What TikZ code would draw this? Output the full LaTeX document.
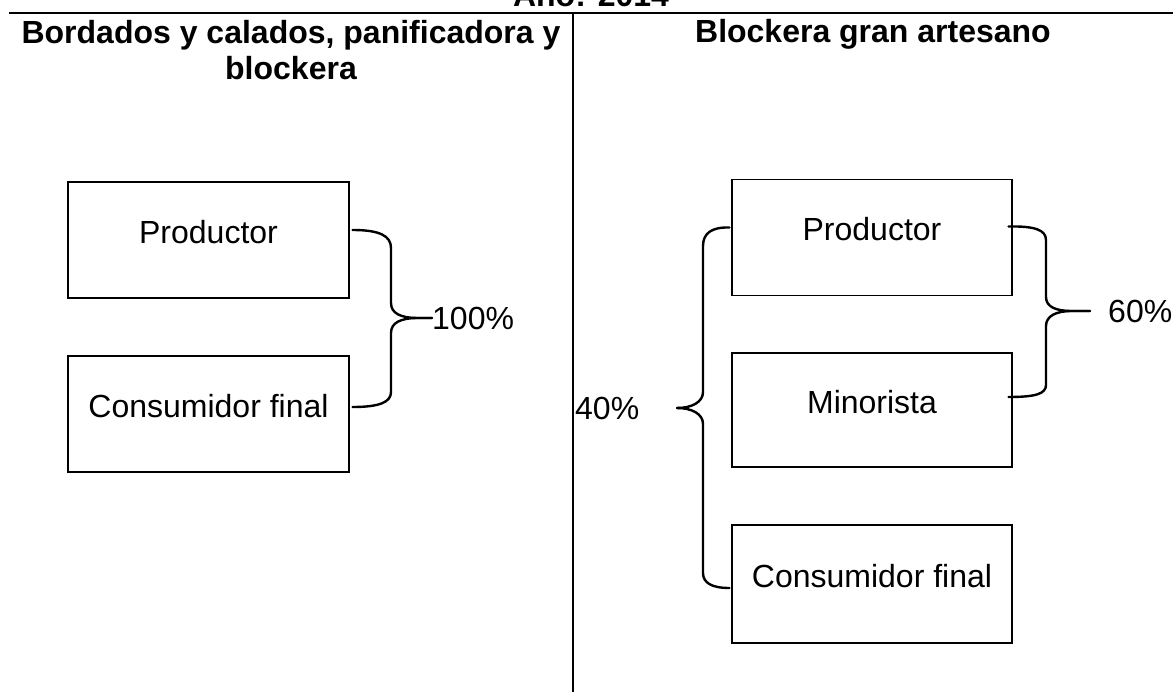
\documentclass[tikz,border=0pt]{standalone}
\usepackage{fontspec}
\setmainfont{Liberation Sans}
\usetikzlibrary{calc}
\newcommand\boxtxt[1]{\raisebox{8pt}[\height][\depth]{#1}}
\begin{document}
\begin{tikzpicture}[x=1pt,y=-1pt,
  every node/.style={font=\fontsize{32}{38}\selectfont},
  titletxt/.style={font=\fontsize{32}{38}\selectfont\bfseries, anchor=base, inner sep=0pt},
  box/.style={draw, line width=1.3pt, minimum width=281pt, minimum height=116pt, inner sep=0pt},
  pct/.style={anchor=west, inner sep=0pt},
  rule/.style={line width=1.4pt},
  brace/.style={line width=2.4pt, line join=round, line cap=round}]
\useasboundingbox (0,0) rectangle (1176,692);
% title and rules
\node[titletxt] (year) at (591,7) {Año: 2014};
\coordinate (tl) at (9,13);
\coordinate (tr) at (1173,13);
\coordinate (vt) at (573,13);
\coordinate (vb) at (573,692);
\draw[rule] (tl) -- (tr);
\draw[rule] (vt) -- (vb);
\node[titletxt] (tL1) at (291,44) {Bordados y calados, panificadora y};
\node[titletxt] (tL2) at (291,80) {blockera};
\node[titletxt] (tR) at (873,43) {Blockera gran artesano};
% left boxes
\node[box] (pL) at (208.5,240) {\boxtxt{Productor}};
\node[box] (cL) at (208.5,414) {\boxtxt{Consumidor final}};
% right boxes
\node[box, minimum width=280pt] (pR) at (872,237.5) {\boxtxt{Productor}};
\node[box, minimum width=280pt, minimum height=114pt] (mR) at (872,410) {\boxtxt{Minorista}};
\node[box, minimum width=280pt, minimum height=118pt] (cR) at (872,584) {\boxtxt{Consumidor final}};
% labels
\node[pct] (l100) at (432,318) {100\%};
\node[pct] (l60) at (1108,311) {60\%};
\node[pct] (l40) at (575,408) {40\%};
% left brace
\coordinate (bLt) at ($(pL.east)+(3,-10)$);
\coordinate (bLb) at ($(cL.east)+(3,-7)$);
\draw[brace] (bLt) .. controls (380,230) and (391,236) .. (391,248) -- (391,303)
  .. controls (391,313) and (400,318) .. (418,318) -- (l100.west);
\draw[brace] (l100.west) -- (418,318) .. controls (400,318) and (391,323) .. (391,333) -- (391,392)
  .. controls (391,402) and (380,407) .. (bLb);
% right 60% brace
\coordinate (bRt) at ($(pR.east)+(-4,-11)$);
\coordinate (bRb) at ($(mR.east)+(-4,-13)$);
\coordinate (tip60) at (1090,311);
\draw[brace] (bRt) .. controls (1035,226) and (1046,230) .. (1046,240) -- (1046,297)
  .. controls (1046,307) and (1056,311) .. (1072,311) -- (tip60);
\draw[brace] (tip60) -- (1072,311) .. controls (1056,311) and (1046,316) .. (1046,326) -- (1046,385)
  .. controls (1046,394) and (1035,397) .. (bRb);
% right 40% brace
\coordinate (b4t) at ($(pR.west)+(-2,-10)$);
\coordinate (b4b) at ($(cR.west)+(-2,4)$);
\coordinate (tip40) at (677,408);
\draw[brace] (b4t) .. controls (712,227) and (703,233) .. (703,246) -- (703,392)
  .. controls (703,402) and (692,408) .. (tip40);
\draw[brace] (tip40) .. controls (692,408) and (703,414) .. (703,424) -- (703,573)
  .. controls (703,583) and (712,588) .. (b4b);
\end{tikzpicture}
\end{document}
